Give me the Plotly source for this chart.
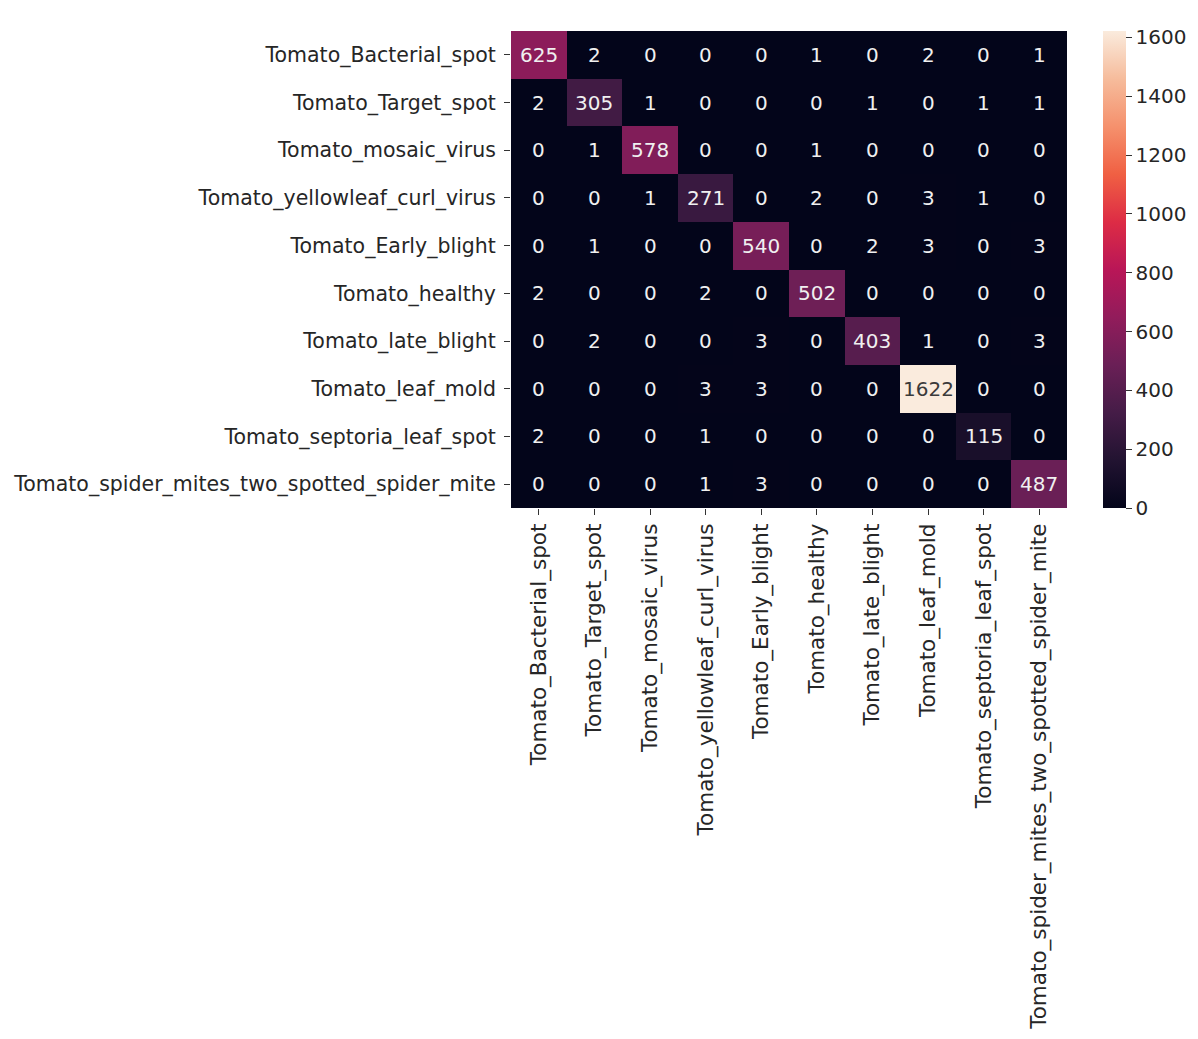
import plotly.graph_objects as go

# Class names (same order on both axes: rows = true, columns = predicted)
classes = [
    "Tomato_Bacterial_spot",
    "Tomato_Target_spot",
    "Tomato_mosaic_virus",
    "Tomato_yellowleaf_curl_virus",
    "Tomato_Early_blight",
    "Tomato_healthy",
    "Tomato_late_blight",
    "Tomato_leaf_mold",
    "Tomato_septoria_leaf_spot",
    "Tomato_spider_mites_two_spotted_spider_mite",
]

# Confusion matrix counts
row_bacterial = [625, 2, 0, 0, 0, 1, 0, 2, 0, 1]
row_target = [2, 305, 1, 0, 0, 0, 1, 0, 1, 1]
row_mosaic = [0, 1, 578, 0, 0, 1, 0, 0, 0, 0]
row_yellowleaf = [0, 0, 1, 271, 0, 2, 0, 3, 1, 0]
row_early = [0, 1, 0, 0, 540, 0, 2, 3, 0, 3]
row_healthy = [2, 0, 0, 2, 0, 502, 0, 0, 0, 0]
row_late = [0, 2, 0, 0, 3, 0, 403, 1, 0, 3]
row_mold = [0, 0, 0, 3, 3, 0, 0, 1622, 0, 0]
row_septoria = [2, 0, 0, 1, 0, 0, 0, 0, 115, 0]
row_spider = [0, 0, 0, 1, 3, 0, 0, 0, 0, 487]

matrix = [row_bacterial, row_target, row_mosaic, row_yellowleaf, row_early,
          row_healthy, row_late, row_mold, row_septoria, row_spider]

colorbar_ticks = [0, 200, 400, 600, 800, 1000, 1200, 1400, 1600]

# Seaborn "rocket" colormap approximation
rocket = [
    [0.00, "#03051a"],
    [0.10, "#221331"],
    [0.20, "#451c47"],
    [0.30, "#6a1f56"],
    [0.40, "#921c5b"],
    [0.50, "#b91657"],
    [0.60, "#dd2c45"],
    [0.70, "#f06043"],
    [0.80, "#f5916d"],
    [0.90, "#f6bc9c"],
    [1.00, "#faebdd"],
]

vmax = max(max(r) for r in matrix)

W, H = 1198, 1039
left, right, top, bottom = 511, 1067, 31, 508
x0, x1 = left / W, right / W
y0, y1 = 1 - bottom / H, 1 - top / H

FONT = "DejaVu Sans"
YLABEL_SIZE = 20.5
XLABEL_SIZE = 21.5
CELL_SIZE = 20
TEXT = "#262626"

fig = go.Figure(
    go.Heatmap(
        z=matrix,
        x=classes,
        y=classes,
        colorscale=rocket,
        zmin=0,
        zmax=vmax,
        colorbar=dict(
            x=1103 / W,
            xanchor="left",
            xpad=0,
            y=(y0 + y1) / 2,
            yanchor="middle",
            ypad=0,
            len=(bottom - top) / H,
            lenmode="fraction",
            thickness=23,
            outlinewidth=0,
            tickvals=colorbar_ticks,
            ticks="outside",
            ticklen=6,
            tickcolor="#333",
            tickfont=dict(family=FONT, size=20, color=TEXT),
        ),
        hoverinfo="skip",
    )
)

# Cell annotations: light text on dark cells, dark text on light cells
for i, row in enumerate(matrix):
    for j, v in enumerate(row):
        frac = v / vmax
        fig.add_annotation(
            x=classes[j],
            y=classes[i],
            text=str(v),
            showarrow=False,
            font=dict(family=FONT, size=CELL_SIZE,
                      color="#3a3a3a" if frac > 0.6 else "#f0f0f0"),
        )

fig.update_layout(
    width=W,
    height=H,
    margin=dict(l=0, r=0, t=0, b=0),
    paper_bgcolor="white",
    plot_bgcolor="white",
    xaxis=dict(
        domain=[x0, x1],
        tickangle=-90,
        ticks="outside",
        ticklen=6,
        tickcolor="#333",
        tickfont=dict(family=FONT, size=XLABEL_SIZE, color=TEXT),
        showgrid=False,
        zeroline=False,
        automargin=False,
    ),
    yaxis=dict(
        domain=[y0, y1],
        autorange="reversed",
        ticks="outside",
        ticklen=6,
        tickcolor="#333",
        ticklabelstandoff=4,
        tickfont=dict(family=FONT, size=YLABEL_SIZE, color=TEXT),
        showgrid=False,
        zeroline=False,
        automargin=False,
    ),
)

fig.write_html("out.html")
